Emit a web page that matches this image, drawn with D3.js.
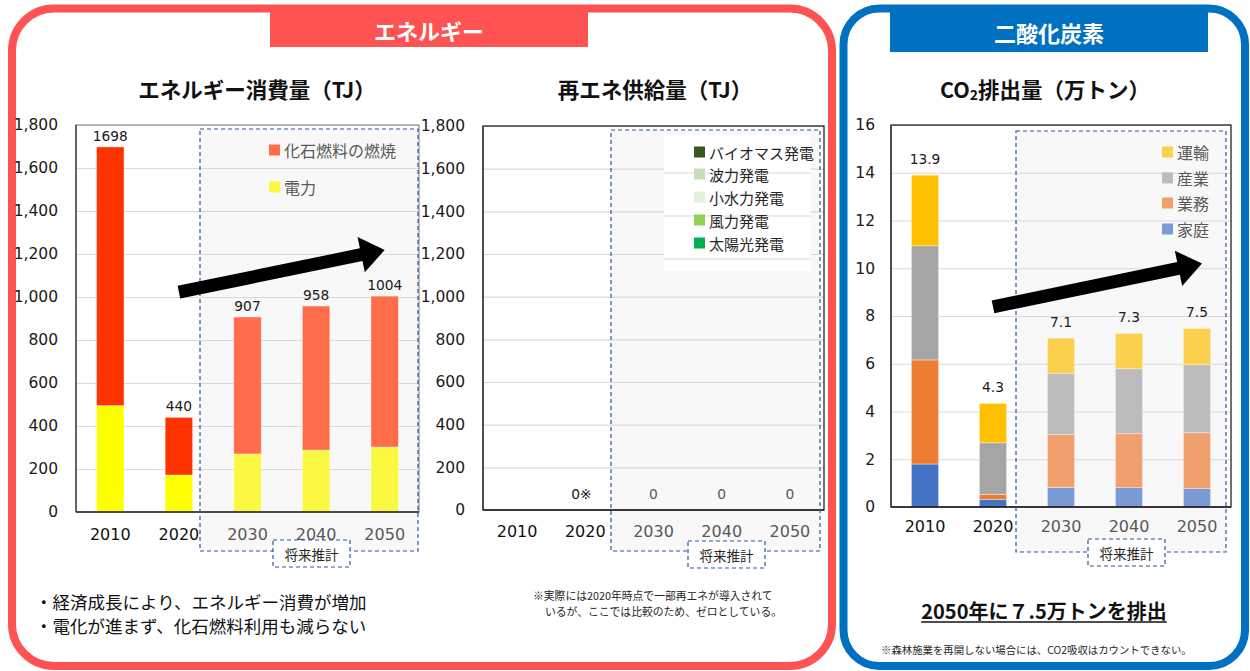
<!DOCTYPE html>
<html><head><meta charset="utf-8">
<script src="https://cdn.jsdelivr.net/npm/d3@7"></script>
<style>body{margin:0;background:#fff;} svg{display:block;}</style>
</head><body><svg id="c" width="1250" height="671"></svg>
<script>
// ---------- DATA ----------
const years = ["2010", "2020", "2030", "2040", "2050"];
const futureYears = ["2030", "2040", "2050"];

// エネルギー消費量（TJ）
const energyKeys = ["電力", "化石燃料の燃焼"];
const energyElectric = [495, 172, 270, 288, 302];
const energyFossil = [1203, 268, 637, 670, 702];
const energyTotalLabels = ["1698", "440", "907", "958", "1004"];
const energyTicks = [0, 200, 400, 600, 800, 1000, 1200, 1400, 1600, 1800];

// 再エネ供給量（TJ）
const renewKeys = ["バイオマス発電", "波力発電", "小水力発電", "風力発電", "太陽光発電"];
const renewBiomass = [0, 0, 0, 0, 0];
const renewWave = [0, 0, 0, 0, 0];
const renewSmallHydro = [0, 0, 0, 0, 0];
const renewWind = [0, 0, 0, 0, 0];
const renewSolar = [0, 0, 0, 0, 0];
const renewLabels = ["", "0※", "0", "0", "0"];

// CO2排出量（万トン）
const co2Keys = ["家庭", "業務", "産業", "運輸"];
const co2Home = [1.80, 0.32, 0.82, 0.81, 0.77];
const co2Business = [4.36, 0.21, 2.21, 2.26, 2.34];
const co2Industry = [4.78, 2.16, 2.57, 2.72, 2.85];
const co2Transport = [2.96, 1.65, 1.47, 1.48, 1.52];
const co2TotalLabels = ["13.9", "4.3", "7.1", "7.3", "7.5"];
const co2Ticks = [0, 2, 4, 6, 8, 10, 12, 14, 16];

// ---------- STYLE ----------
const JP = "'Noto Sans CJK JP','Noto Sans',sans-serif";
const NUM = "'DejaVu Sans',Verdana,sans-serif";
const RED = "#FF5252", BLUE = "#0070C0", DASH = "#2F5597";
const energyColorsPast = {"電力": "#FFFF00", "化石燃料の燃焼": "#FF3300"};
const energyColorsFuture = {"電力": "#FAF840", "化石燃料の燃焼": "#FF6D4A"};
const renewColors = {"バイオマス発電": "#375623", "波力発電": "#C5E0B4", "小水力発電": "#E2F0D9", "風力発電": "#92D050", "太陽光発電": "#00B050"};
const co2ColorsPast = {"家庭": "#4472C4", "業務": "#ED7D31", "産業": "#A5A5A5", "運輸": "#FFC000"};
const co2ColorsFuture = {"家庭": "#7A9BD5", "業務": "#F0A06C", "産業": "#BCBCBC", "運輸": "#FAD04C"};

const svg = d3.select("#c");

// ---------- PANELS ----------
svg.append("rect").attr("x", 12).attr("y", 8.5).attr("width", 820).attr("height", 657.5)
  .attr("rx", 42).attr("fill", "none").attr("stroke", RED).attr("stroke-width", 8);
svg.append("rect").attr("x", 843.5).attr("y", 8.5).attr("width", 401.5).attr("height", 657.5)
  .attr("rx", 36).attr("fill", "none").attr("stroke", BLUE).attr("stroke-width", 8);
svg.append("rect").attr("x", 270).attr("y", 8).attr("width", 318).attr("height", 39).attr("fill", RED);
svg.append("text").attr("x", 429).attr("y", 30).attr("text-anchor", "middle").attr("dominant-baseline", "central")
  .attr("font-family", JP).attr("font-weight", "bold").attr("font-size", 22).attr("fill", "#fff").text("エネルギー");
svg.append("rect").attr("x", 890).attr("y", 8).attr("width", 318).attr("height", 44).attr("fill", BLUE);
svg.append("text").attr("x", 1049).attr("y", 32).attr("text-anchor", "middle").attr("dominant-baseline", "central")
  .attr("font-family", JP).attr("font-weight", "bold").attr("font-size", 22).attr("fill", "#fff").text("二酸化炭素");

// titles
function title(x, txt) {
  return svg.append("text").attr("x", x).attr("y", 88).attr("text-anchor", "middle").attr("dominant-baseline", "central")
    .attr("font-family", JP).attr("font-weight", "bold").attr("font-size", 21.5).attr("fill", "#111").text(txt);
}
title(257, "エネルギー消費量（TJ）");
title(655, "再エネ供給量（TJ）");
const t3 = svg.append("text").attr("x", 1045).attr("y", 88).attr("text-anchor", "middle").attr("dominant-baseline", "central")
  .attr("font-family", JP).attr("font-weight", "bold").attr("font-size", 21.5).attr("fill", "#111");
t3.append("tspan").text("CO");
t3.append("tspan").attr("font-size", 14).attr("dy", 6).text("2");
t3.append("tspan").attr("dy", -6).text("排出量（万トン）");

// ---------- CHART HELPER ----------
function chart(cfg) {
  const g = svg.append("g");
  const x = d3.scaleBand().domain(years).range([cfg.x0, cfg.x1]).paddingInner(0.6).paddingOuter(0.3);
  const y = d3.scaleLinear().domain([0, cfg.max]).range([cfg.y1, cfg.y0]);
  g.append("rect").attr("x", cfg.fx0).attr("y", cfg.fy0).attr("width", cfg.fx1 - cfg.fx0).attr("height", cfg.fy1 - cfg.fy0)
    .attr("fill", "#F8F8F8");
  const grid = g.append("g").call(d3.axisLeft(y).tickValues(cfg.ticks.slice(1)).tickSize(-(cfg.x1 - cfg.x0)).tickFormat(""))
    .attr("transform", `translate(${cfg.x0},0)`);
  grid.select(".domain").remove();
  grid.selectAll("line").attr("stroke", "#D9D9D9").attr("stroke-width", 1.2);
  const ya = g.append("g").attr("transform", `translate(${cfg.x0},0)`)
    .call(d3.axisLeft(y).tickValues(cfg.ticks).tickSize(0).tickPadding(cfg.pad).tickFormat(cfg.fmt));
  ya.select(".domain").remove();
  ya.selectAll("text").attr("font-family", NUM).attr("font-size", 15.5).attr("fill", "#1a1a1a");
  const xa = g.append("g").attr("transform", `translate(0,${cfg.y1})`)
    .call(d3.axisBottom(x).tickSize(0).tickPadding(cfg.xpad));
  xa.select(".domain").remove();
  xa.selectAll("text").attr("font-family", NUM).attr("font-size", 16)
    .attr("fill", d => futureYears.includes(d) ? "#595959" : "#111");
  if (cfg.rows) {
    const stack = d3.stack().keys(cfg.keys)(cfg.rows);
    stack.forEach(layer => {
      g.append("g").selectAll("rect").data(layer).join("rect")
        .attr("x", d => x(d.data.year)).attr("width", x.bandwidth())
        .attr("y", d => y(d[1])).attr("height", d => y(d[0]) - y(d[1]))
        .attr("fill", d => (futureYears.includes(d.data.year) ? cfg.colorsF : cfg.colorsP)[layer.key])
        .attr("stroke", "rgba(255,255,255,0.45)").attr("stroke-width", 0.8);
    });
  }
  g.append("rect").attr("x", cfg.x0).attr("y", cfg.y0).attr("width", cfg.x1 - cfg.x0).attr("height", cfg.y1 - cfg.y0)
    .attr("fill", "none").attr("stroke", cfg.frame).attr("stroke-width", 1.2);
  g.append("line").attr("x1", cfg.x0).attr("x2", cfg.x1).attr("y1", cfg.y1).attr("y2", cfg.y1)
    .attr("stroke", "#262626").attr("stroke-width", 1.6);
  g.append("line").attr("x1", cfg.x0).attr("x2", cfg.x0).attr("y1", cfg.y0).attr("y2", cfg.y1)
    .attr("stroke", "#404040").attr("stroke-width", 1.4);
  g.append("rect").attr("x", cfg.fx0).attr("y", cfg.fy0).attr("width", cfg.fx1 - cfg.fx0).attr("height", cfg.fy1 - cfg.fy0)
    .attr("fill", "none").attr("stroke", DASH).attr("stroke-width", 1.2).attr("stroke-dasharray", "4,3");
  g.append("rect").attr("x", cfg.bx).attr("y", cfg.by).attr("width", 77).attr("height", 27)
    .attr("fill", "#fff").attr("stroke", DASH).attr("stroke-width", 1.2).attr("stroke-dasharray", "4,3");
  g.append("text").attr("x", cfg.bx + 38.5).attr("y", cfg.by + 14).attr("text-anchor", "middle").attr("dominant-baseline", "central")
    .attr("font-family", JP).attr("font-size", 13.5).attr("fill", "#262626").text("将来推計");
  g.append("g").selectAll("text").data(cfg.labels.map((l, i) => ({l, yr: years[i], v: cfg.totals[i]}))).join("text")
    .attr("x", d => x(d.yr) + x.bandwidth() / 2 + (d.l === "0※" ? -4 : 0))
    .attr("y", d => y(d.v) - cfg.loff).attr("text-anchor", "middle").attr("dominant-baseline", "central")
    .attr("font-family", NUM).attr("font-size", 13.8)
    .attr("fill", d => cfg.labelGray && futureYears.includes(d.yr) ? "#595959" : "#1a1a1a")
    .text(d => d.l);
  return {g, x, y};
}

function arrow(g, x1, y1, x2, y2) {
  const dx = x2 - x1, dy = y2 - y1, L = Math.hypot(dx, dy);
  const ux = dx / L, uy = dy / L, nx = -uy, ny = ux;
  const hw = 6.5, hh = 18, hl = 24;
  const bx = x2 - ux * hl, by = y2 - uy * hl;
  const pts = [
    [x1 + nx * hw, y1 + ny * hw], [bx + nx * hw, by + ny * hw], [bx + nx * hh, by + ny * hh], [x2, y2],
    [bx - nx * hh, by - ny * hh], [bx - nx * hw, by - ny * hw], [x1 - nx * hw, y1 - ny * hw]];
  g.append("polygon").attr("points", pts.map(p => p.join(",")).join(" ")).attr("fill", "#000");
}

function legend(g, items, colors, x, ys, fs, color) {
  items.forEach((k, i) => {
    g.append("rect").attr("x", x).attr("y", ys[i] - 5.5).attr("width", 11).attr("height", 11).attr("fill", colors[k]);
    g.append("text").attr("x", x + 15).attr("y", ys[i]).attr("dominant-baseline", "central")
      .attr("font-family", JP).attr("font-size", fs).attr("fill", color).text(k);
  });
}

// ---------- CHART 1 ----------
const energyRows = years.map((yr, i) => ({year: yr, "電力": energyElectric[i], "化石燃料の燃焼": energyFossil[i]}));
const c1 = chart({x0: 76, x1: 419, y0: 125, y1: 512, max: 1800, ticks: energyTicks, fmt: d3.format(","), pad: 18, xpad: 17,
  fx0: 200, fx1: 418, fy0: 129, fy1: 551, bx: 273, by: 540, frame: "#8C8C8C",
  rows: energyRows, keys: energyKeys, colorsP: energyColorsPast, colorsF: energyColorsFuture,
  labels: energyTotalLabels, totals: years.map((_, i) => energyElectric[i] + energyFossil[i]), loff: 11});
legend(c1.g, ["化石燃料の燃焼", "電力"], energyColorsFuture, 269, [150, 187], 16, "#595959");
arrow(c1.g, c1.x("2020") + c1.x.bandwidth() / 2, c1.y(1023), c1.x("2050") + c1.x.bandwidth() / 2, c1.y(1219));

// ---------- CHART 2 ----------
const renewRows = years.map((yr, i) => ({year: yr, "バイオマス発電": renewBiomass[i], "波力発電": renewWave[i],
  "小水力発電": renewSmallHydro[i], "風力発電": renewWind[i], "太陽光発電": renewSolar[i]}));
const c2 = chart({x0: 483, x1: 824, y0: 126, y1: 510, max: 1800, ticks: energyTicks, fmt: d3.format(","), pad: 18, xpad: 16,
  fx0: 611, fx1: 820, fy0: 130, fy1: 551, bx: 688, by: 541, frame: "#111",
  rows: renewRows, keys: renewKeys, colorsP: renewColors, colorsF: renewColors,
  labels: renewLabels, totals: years.map(() => 0), loff: 16, labelGray: true});
c2.g.append("rect").attr("x", 664).attr("y", 135).attr("width", 147).attr("height", 136).attr("fill", "#fff");
[173, 216, 259].forEach(yy => c2.g.append("line").attr("x1", 664).attr("x2", 811).attr("y1", yy).attr("y2", yy)
  .attr("stroke", "#D9D9D9").attr("stroke-width", 1));
legend(c2.g, renewKeys, renewColors, 694, [152, 174, 197, 220, 243], 15, "#262626");
svg.append("text").attr("x", 533).attr("y", 595).attr("dominant-baseline", "central").attr("font-family", JP)
  .attr("font-size", 10.8).attr("fill", "#262626").text("※実際には2020年時点で一部再エネが導入されて");
svg.append("text").attr("x", 545).attr("y", 611).attr("dominant-baseline", "central").attr("font-family", JP)
  .attr("font-size", 10.8).attr("fill", "#262626").text("いるが、ここでは比較のため、ゼロとしている。");

// ---------- CHART 3 ----------
const co2Rows = years.map((yr, i) => ({year: yr, "家庭": co2Home[i], "業務": co2Business[i], "産業": co2Industry[i], "運輸": co2Transport[i]}));
const c3 = chart({x0: 891, x1: 1231, y0: 125, y1: 507, max: 16, ticks: co2Ticks, fmt: d3.format("d"), pad: 16, xpad: 14,
  fx0: 1016, fx1: 1226, fy0: 131, fy1: 552, bx: 1088, by: 539, frame: "#111",
  rows: co2Rows, keys: co2Keys, colorsP: co2ColorsPast, colorsF: co2ColorsFuture,
  labels: co2TotalLabels, totals: years.map((_, i) => co2Home[i] + co2Business[i] + co2Industry[i] + co2Transport[i]), loff: 16});
legend(c3.g, ["運輸", "産業", "業務", "家庭"], co2ColorsFuture, 1162, [152, 178, 203, 229], 16, "#595959");
arrow(c3.g, c3.x("2020") + c3.x.bandwidth() / 2, c3.y(8.38), c3.x("2050") + c3.x.bandwidth() / 2 + 5, c3.y(10.2));

// ---------- TEXT ----------
const bullets = svg.append("text").attr("font-family", JP).attr("font-size", 17.5).attr("fill", "#111");
bullets.append("tspan").attr("x", 35).attr("y", 609).text("・経済成長により、エネルギー消費が増加");
bullets.append("tspan").attr("x", 35).attr("y", 633).text("・電化が進まず、化石燃料利用も減らない");
const big = svg.append("text").attr("x", 1044).attr("y", 610).attr("text-anchor", "middle").attr("dominant-baseline", "central")
  .attr("font-family", JP).attr("font-weight", "bold").attr("font-size", 20).attr("fill", "#111").text("2050年に７.5万トンを排出");
const bb = big.node().getBBox();
svg.append("line").attr("x1", bb.x).attr("x2", bb.x + bb.width).attr("y1", 622).attr("y2", 622).attr("stroke", "#111").attr("stroke-width", 1.5);
svg.append("text").attr("x", 881).attr("y", 649).attr("dominant-baseline", "central").attr("font-family", JP)
  .attr("font-size", 10.4).attr("fill", "#262626").text("※森林施業を再開しない場合には、CO2吸収はカウントできない。");
</script></body></html>
